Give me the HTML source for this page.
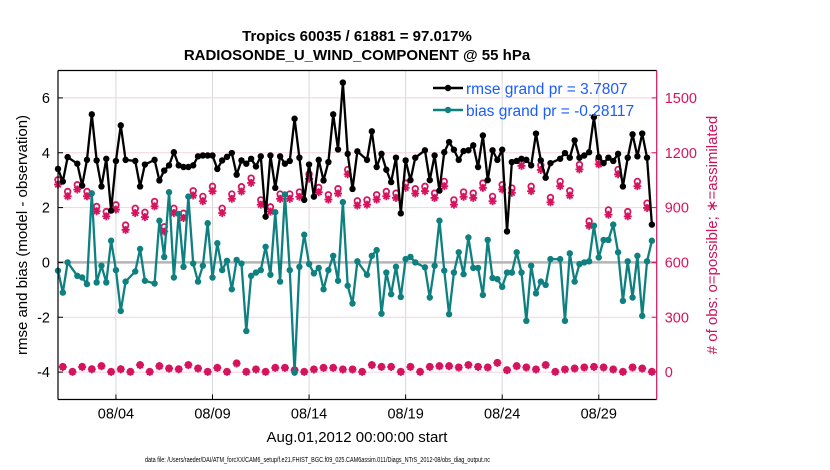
<!DOCTYPE html>
<html><head><meta charset="utf-8"><style>
html,body{margin:0;padding:0;background:#fff;}
svg{display:block;font-family:"Liberation Sans",Arial,sans-serif;}
</style></head>
<body>
<svg id="chart" width="830" height="470" viewBox="0 0 830 470" xmlns="http://www.w3.org/2000/svg">
<rect width="830" height="470" fill="#fff"/>
<text x="357" y="41" text-anchor="middle" font-size="15" font-weight="bold">Tropics 60035 / 61881 = 97.017%</text>
<text x="357" y="60" text-anchor="middle" font-size="15" font-weight="bold">RADIOSONDE_U_WIND_COMPONENT @ 55 hPa</text>
<g id="grid"></g>
<g id="marks"></g>
<g id="axes"></g>
<text transform="translate(27,235) rotate(-90)" text-anchor="middle" font-size="15">rmse and bias (model - observation)</text>
<text transform="translate(717,235) rotate(-90)" text-anchor="middle" font-size="15" fill="#d0125a"># of obs: o=possible; ∗=assimilated</text>
<text x="357" y="442" text-anchor="middle" font-size="15">Aug.01,2012 00:00:00 start</text>
<text x="145" y="462" font-size="7" textLength="345" lengthAdjust="spacingAndGlyphs">data file: /Users/raeder/DAI/ATM_forcXX/CAM6_setup/f.e21.FHIST_BGC.f09_025.CAM6assim.011/Diags_NTrS_2012-08/obs_diag_output.nc</text>
<g id="legend">
<line x1="433" y1="88" x2="463" y2="88" stroke="#000" stroke-width="2.5"/>
<circle cx="448" cy="88" r="3.2" fill="#000"/>
<text x="466" y="94" font-size="15.5" fill="#1a5cff">rmse grand pr = 3.7807</text>
<line x1="433" y1="110" x2="463" y2="110" stroke="#0f8080" stroke-width="2.5"/>
<circle cx="448" cy="110" r="3.2" fill="#0f8080"/>
<text x="466" y="116" font-size="15.5" fill="#1a5cff">bias grand pr = -0.28117</text>
</g>
</svg>
<script>
const rmse=[3.41,2.95,3.84,null,3.6,2.8,3.74,5.4,3.72,2.77,3.78,1.89,3.7,5.0,3.74,null,3.7,2.77,3.57,null,3.74,2.99,3.35,3.54,4.02,3.54,3.48,3.48,3.54,3.87,3.9,3.9,
3.9,3.41,3.72,3.85,3.99,3.2,3.72,3.6,3.78,3.5,3.87,1.67,3.9,2.72,3.87,3.6,3.7,5.24,3.82,2.28,3.57,2.4,3.74,2.99,3.66,5.4,4.12,6.56,3.96,2.68,4.05,
null,3.74,4.78,3.48,3.96,3.38,2.93,3.82,1.79,3.72,3.0,3.82,null,4.09,3.0,3.9,2.62,4.02,4.39,4.11,3.74,4.06,4.09,4.27,3.48,4.63,3.0,4.09,3.74,4.11,1.13,
3.66,3.7,3.78,3.74,3.54,4.7,3.72,3.09,3.62,null,3.78,3.99,3.82,4.45,3.82,3.9,4.02,5.3,3.84,3.62,3.82,3.7,3.96,2.77,3.82,4.67,3.87,4.7,3.82,1.38];
const bias=[-0.3,-1.1,0,null,-0.49,-0.55,-0.79,2.52,-0.73,-0.12,-0.73,0.79,-0.28,-1.77,-0.7,null,-0.33,0.49,-0.67,null,-0.77,1.52,0.2,2.56,-0.55,1.77,-0.16,2.4,-0.04,-0.7,-0.12,1.43,
-0.55,0.7,-0.28,0.06,-0.98,0.09,-0.04,-2.5,-0.49,-0.37,-0.28,0.57,-0.45,1.83,-0.7,2.48,-0.28,-4.02,-0.16,1.01,-0.06,-0.4,-0.2,-0.98,-0.28,0.24,-0.67,2.2,-0.85,-1.5,0.04,
null,-0.45,0.24,0.45,-1.87,-0.37,-1.16,-0.16,-1.26,0.12,0.2,0,null,-0.18,-1.28,-0.12,1.52,-0.3,-1.89,-0.37,0.37,-0.43,0.91,-0.2,-0.2,-1.19,0.82,-0.57,-0.61,-0.89,-0.37,
-0.37,0.37,-0.37,-2.13,-0.12,-1.13,-0.7,-0.82,0.12,null,0.12,-2.13,0.33,-0.7,-0.06,0,0.04,1.34,0.18,0.82,0.82,1.38,0.37,-1.4,0.04,-1.28,0.24,-1.95,0.04,0.79];
const possible=[1052,30,988,3,1025,30,988,17,906,34,878,3,915,17,804,3,896,40,874,3,933,34,795,21,896,17,869,40,992,21,961,3,
1016,25,896,3,974,49,1014,3,1061,16,942,3,904,25,974,25,974,12,985,3,1084,16,1010,25,970,25,1003,16,1108,16,937,3,
942,40,970,30,988,30,979,3,1034,30,1003,3,1016,30,979,34,1043,34,942,27,985,40,979,30,1034,27,961,52,1025,12,
1007,34,1154,27,1016,16,1132,40,955,3,1043,16,992,21,1135,27,826,30,1163,27,887,16,1108,3,878,27,1043,21,924,3];
const assimilated=[1026,28,962,1,999,28,962,15,880,32,852,1,889,15,778,1,870,38,848,1,907,32,769,19,870,15,843,38,966,19,935,1,
990,23,870,1,948,47,988,1,1035,14,916,1,878,23,948,23,948,10,959,1,1058,14,984,23,944,23,977,14,1082,14,911,1,
916,38,944,28,962,28,953,1,1008,28,977,1,990,28,953,32,1017,32,916,25,959,38,953,28,1008,25,935,50,999,10,
981,32,1128,25,990,14,1106,38,929,1,1017,14,966,19,1109,25,800,28,1137,25,861,14,1082,1,852,25,1017,19,898,1];
const dateTicks=[3,8,13,18,23,28];
const dateLabels=["08/04","08/09","08/14","08/19","08/24","08/29"];
const leftTicks=[-4,-2,0,2,4,6];
const rightTicks=[0,300,600,900,1200,1500];
const stepDays=0.25;

const X0=58,X1=656.7,Y0=70.5,Y1=399.5;
const xs=d=>X0+(d/31)*(X1-X0);
const yl=v=>Y1-(v+5)/12*(Y1-Y0);
const yr=v=>Y1-(v+150)/1800*(Y1-Y0);
const NS="http://www.w3.org/2000/svg";
function mk(tag,attrs,parent){const e=document.createElementNS(NS,tag);for(const k in attrs)e.setAttribute(k,attrs[k]);parent.appendChild(e);return e;}
const grid=document.getElementById('grid'),marks=document.getElementById('marks'),axes=document.getElementById('axes');

dateTicks.forEach((d,i)=>{
  const g=mk('line',{x1:xs(d),x2:xs(d),y1:Y0,y2:Y1,stroke:'#d8d8d8','stroke-width':1},grid);
  
  
  const t=mk('line',{x1:xs(d),x2:xs(d),y1:Y1,y2:Y1-5,stroke:'#000','stroke-width':1},axes);
  
  
  const l=mk('text',{x:xs(d),y:Y1+19,'text-anchor':'middle','font-size':14.5},axes);
  l.textContent=dateLabels[i];
  
  
});
rightTicks.forEach(v=>{
  if(v===600)return;
  const g=mk('line',{x1:X0,x2:X1,y1:yr(v),y2:yr(v),stroke:'#f4d2de','stroke-width':1},grid);
  
  
});
const z=mk('line',{x1:X0,x2:X1,y1:yl(0),y2:yl(0),stroke:'#b4b4b4','stroke-width':2.5},grid);



function series(arr,color,name){
  const pts=[];arr.forEach((v,i)=>{if(v!==null)pts.push([xs(i*stepDays),yl(v)]);});
  const p=mk('polyline',{points:pts.map(p=>p.join(',')).join(' '),fill:'none',stroke:color,'stroke-width':2.3,'stroke-linejoin':'round'},marks);
  
  
  pts.forEach(q=>{
    const c=mk('circle',{cx:q[0],cy:q[1],r:3.2,fill:color},marks);
    
    
  });
}
const pink='#d6135e';
assimilated.forEach((v,i)=>{
  const cx=xs(i*stepDays),cy=yr(v);
  const g=mk('g',{stroke:pink,'stroke-width':1.8},marks);
  
  
  const r=4;
  mk('line',{x1:cx-r,x2:cx+r,y1:cy,y2:cy},g);
  mk('line',{x1:cx,x2:cx,y1:cy-r,y2:cy+r},g);
  mk('line',{x1:cx-r*0.7,x2:cx+r*0.7,y1:cy-r*0.7,y2:cy+r*0.7},g);
  mk('line',{x1:cx-r*0.7,x2:cx+r*0.7,y1:cy+r*0.7,y2:cy-r*0.7},g);
});
possible.forEach((v,i)=>{
  const c=mk('circle',{cx:xs(i*stepDays),cy:yr(v),r:2.8,fill:'none',stroke:pink,'stroke-width':1.8},marks);
  
  
});
series(bias,'#0f8080','bias');
series(rmse,'#000','rmse');

const fr=[['top-spine',X0,Y0,X1,Y0,'#000'],['bottom-spine',X0,Y1,X1,Y1,'#000'],['left-spine',X0,Y0,X0,Y1,'#000'],['right-spine',X1,Y0,X1,Y1,pink]];
fr.forEach(f=>{const l=mk('line',{x1:f[1],y1:f[2],x2:f[3],y2:f[4],stroke:f[5],'stroke-width':1.2},axes);
  
  });
leftTicks.forEach(v=>{
  const t=mk('line',{x1:X0,x2:X0+5,y1:yl(v),y2:yl(v),stroke:'#000'},axes);
  
  
  const l=mk('text',{x:X0-8,y:yl(v)+5,'text-anchor':'end','font-size':14.5},axes);
  l.textContent=v;
  
  
});
rightTicks.forEach(v=>{
  const t=mk('line',{x1:X1,x2:X1-5,y1:yr(v),y2:yr(v),stroke:pink},axes);
  
  
  const l=mk('text',{x:X1+8,y:yr(v)+5,'text-anchor':'start','font-size':14.5,fill:pink},axes);
  l.textContent=v;
  
  
});
</script>
</body></html>
